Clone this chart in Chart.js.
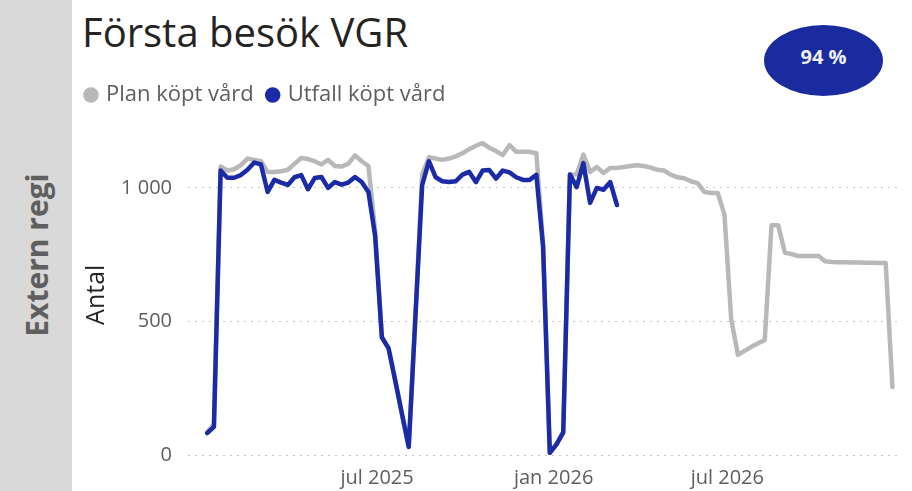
<!DOCTYPE html>
<html>
<head>
<meta charset="utf-8">
<script src="https://cdn.jsdelivr.net/npm/chart.js@4"></script>
<style>
  body { margin: 0; width: 912px; height: 491px; background: #fff; overflow: hidden; font-family: 'Open Sans', sans-serif; }
  #side { position: absolute; left: 0; top: 0; width: 72px; height: 491px; background: #d9d9d9; }
  #side span { position: absolute; left: 36px; top: 255px; transform: translate(-50%, -50%) rotate(-90deg);
    white-space: nowrap; font-weight: bold; font-size: 30px; color: #5f5f5f; }
  #title { position: absolute; left: 82px; top: 4px; font-size: 40px; color: #252423; white-space: nowrap; }
  #badge { position: absolute; left: 764px; top: 25px; width: 119px; height: 71px; border-radius: 50%;
    background: #1a2a9f; color: #eef0f8; font-weight: bold; font-size: 20px; text-align: center; line-height: 64px; }
  #wrap { position: absolute; left: 72px; top: 0; width: 840px; height: 491px; }
</style>
</head>
<body>
<div id="side"><span>Extern regi</span></div>
<div id="title">Första besök VGR</div>
<div id="badge">94 %</div>
<div id="wrap"><canvas id="diagram"></canvas></div>
<script>
// veckor, första veckan slutar 2025-01-05
let firstWeek = '2025-01-05';
let weekCount = 103;

let planLabel = 'Plan köpt vård';
let utfallLabel = 'Utfall köpt vård';

let plan = [
    85, 115, 1080, 1065, 1070, 1085, 1110, 1105, 1100, 1060,
    1060, 1062, 1068, 1090, 1112, 1108, 1100, 1088, 1105, 1082,
    1080, 1090, 1122, 1100, 1082, 840, 445, 395, 280, 150,
    32, 520, 1050, 1115, 1110, 1105, 1110, 1118, 1130, 1145,
    1158, 1168, 1150, 1138, 1123, 1160, 1135, 1135, 1135, 1130,
    790, 10, 40, 85, 1050, 1050, 1125, 1060, 1078, 1056,
    1075, 1075, 1078, 1082, 1085, 1082, 1076, 1068, 1065, 1050,
    1040, 1036, 1025, 1018, 985, 981, 981, 900, 510, 375,
    390, 405, 418, 431, 860, 860, 757, 752, 745, 745,
    745, 745, 725, 723, 722, 722, 721, 721, 720, 720,
    719, 719, 255
];

let utfall = [
    82, 105, 1065, 1038, 1038, 1048, 1068, 1095, 1088, 985,
    1030, 1020, 1011, 1040, 1048, 995, 1037, 1041, 1000, 1022,
    1012, 1020, 1041, 1022, 985, 820, 440, 400, 277, 153,
    30, 520, 1010, 1100, 1040, 1025, 1022, 1025, 1050, 1060,
    1022, 1065, 1067, 1035, 1065, 1058, 1040, 1030, 1030, 1049,
    780, 8, 40, 85, 1050, 1003, 1093, 944, 1000, 993,
    1022, 936
];

let tickDates = ['2025-07-01', '2026-01-01', '2026-07-01'];
let tickLabels = ['jul 2025', 'jan 2026', 'jul 2026'];
let yTicks = [0, 500, 1000];

const DAY = 86400000;
let dayOf = (d) => (Date.parse(d) - Date.parse(firstWeek)) / DAY;

let weeks = [];
for (let i = 0; i < weekCount; i++) {
    weeks.push(new Date(Date.parse(firstWeek) + i * 7 * DAY).toISOString().substring(0, 10));
}

let toPoints = (values) => values.map((v, i) => ({ x: dayOf(weeks[i]), y: v }));

let formatNum = (v) => String(v).replace(/\B(?=(\d{3})+(?!\d))/g, ' ');

Chart.defaults.font.family = "'Open Sans', sans-serif";

let chart = new Chart(document.getElementById('diagram'), {
    type: 'line',
    data: {
        datasets: [
            { label: planLabel, data: toPoints(plan), borderColor: '#b8b8b8', backgroundColor: '#b8b8b8',
              borderWidth: 4.5, pointRadius: 0, order: 1, borderJoinStyle: 'round', borderCapStyle: 'round' },
            { label: utfallLabel, data: toPoints(utfall), borderColor: '#1b2aa6', backgroundColor: '#1b2aa6',
              borderWidth: 4.5, pointRadius: 0, order: 0, borderJoinStyle: 'round', borderCapStyle: 'round' }
        ]
    },
    options: {
        responsive: true,
        maintainAspectRatio: false,
        animation: false,
        layout: { padding: { left: 0, right: 10, top: 69, bottom: 0 } },
        plugins: {
            tooltip: { enabled: false },
            legend: {
                position: 'top',
                align: 'start',
                labels: {
                    usePointStyle: true,
                    boxWidth: 8,
                    boxHeight: 11,
                    padding: 15,
                    color: '#605e5c',
                    font: { size: 22 },
                    sort: (a, b) => a.datasetIndex - b.datasetIndex,
                    generateLabels: (c) => Chart.defaults.plugins.legend.labels.generateLabels(c)
                        .map(l => Object.assign(l, { lineWidth: 0 }))
                }
            }
        },
        scales: {
            x: {
                type: 'linear',
                min: -20,
                max: 724,
                grid: { display: false },
                border: { display: false },
                afterBuildTicks: (scale) => { scale.ticks = tickDates.map(d => ({ value: dayOf(d) })); },
                afterFit: (scale) => { scale.height = 36; },
                ticks: {
                    autoSkip: false,
                    maxRotation: 0,
                    padding: 3,
                    color: '#605e5c',
                    font: { size: 20 },
                    callback: (v, i) => tickLabels[i]
                }
            },
            // tomt utrymme ovanför diagrammet
            xTop: {
                type: 'linear',
                position: 'top',
                grid: { display: false },
                border: { display: false },
                ticks: { display: false },
                afterFit: (scale) => { scale.height = 18.5; }
            },
            y: {
                min: 0,
                max: 1200,
                afterBuildTicks: (scale) => { scale.ticks = yTicks.map(v => ({ value: v })); },
                afterFit: (scale) => { scale.width = 116; },
                grid: { color: '#c8c6c4', lineWidth: 1, drawTicks: false },
                border: { display: false, dash: [2, 5] },
                title: { display: true, text: 'Antal', color: '#252423', font: { size: 25 }, padding: { top: 10, bottom: 0 } },
                ticks: {
                    padding: 16,
                    color: '#605e5c',
                    font: { size: 20 },
                    callback: (v) => formatNum(v)
                }
            }
        }
    }
});
</script>
</body>
</html>
